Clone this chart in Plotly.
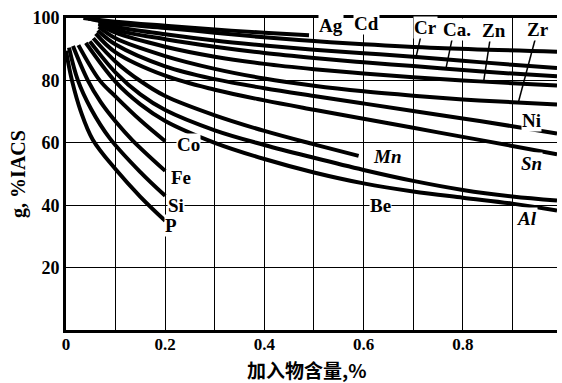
import plotly.graph_objects as go

# ---- data: x = 加入物含量 (%), y = g (%IACS) ----
ag_x = [0.035, 0.1, 0.2, 0.3, 0.4, 0.49]
ag_y = [100.0, 98.8, 97.5, 96.3, 95.3, 94.5]

cd_x = [0.045, 0.1, 0.2, 0.3, 0.4, 0.5, 0.6, 0.75, 0.99]
cd_y = [99.8, 98.2, 96.8, 95.3, 93.8, 92.6, 91.6, 90.4, 89.2]

cr_x = [0.066, 0.1, 0.2, 0.3, 0.4, 0.5, 0.6, 0.7, 0.8, 0.9, 0.99]
cr_y = [99.0, 97.2, 94.8, 92.8, 91.2, 89.8, 88.7, 87.6, 86.3, 85.0, 84.0]

ca_x = [0.066, 0.1, 0.2, 0.3, 0.4, 0.5, 0.6, 0.7, 0.8, 0.9, 0.99]
ca_y = [98.5, 96.2, 93.2, 90.8, 88.8, 87.2, 85.8, 84.6, 83.3, 82.2, 81.3]

zn_x = [0.066, 0.1, 0.2, 0.3, 0.4, 0.5, 0.6, 0.7, 0.8, 0.9, 0.99]
zn_y = [98.0, 95.3, 90.8, 87.6, 85.3, 83.6, 82.2, 81.0, 80.0, 79.1, 78.4]

zr_x = [0.066, 0.1, 0.2, 0.3, 0.4, 0.5, 0.6, 0.7, 0.8, 0.9, 0.99]
zr_y = [97.2, 93.5, 87.8, 83.7, 80.6, 78.3, 76.5, 75.1, 73.9, 73.0, 72.3]

ni_x = [0.064, 0.1, 0.2, 0.3, 0.4, 0.5, 0.6, 0.7, 0.8, 0.9, 0.99]
ni_y = [96.0, 91.5, 84.5, 80.4, 77.5, 75.0, 72.6, 70.2, 67.8, 65.3, 63.0]

sn_x = [0.06, 0.1, 0.2, 0.3, 0.4, 0.5, 0.6, 0.7, 0.8, 0.9, 0.99]
sn_y = [95.0, 89.0, 81.5, 77.0, 73.6, 70.6, 67.7, 64.8, 61.9, 59.0, 56.3]

mn_x = [0.055, 0.1, 0.15, 0.2, 0.3, 0.4, 0.5, 0.59]
mn_y = [93.5, 86.0, 79.8, 75.0, 68.8, 63.8, 59.5, 55.8]

be_x = [0.048, 0.1, 0.15, 0.2, 0.3, 0.4, 0.5, 0.6, 0.7, 0.8, 0.9, 0.99]
be_y = [92.5, 82.5, 75.5, 70.5, 64.0, 59.3, 55.2, 51.3, 47.8, 44.9, 42.8, 41.5]

al_x = [0.04, 0.1, 0.15, 0.2, 0.3, 0.4, 0.5, 0.6, 0.7, 0.8, 0.9, 0.99]
al_y = [92.0, 79.5, 72.3, 67.0, 60.0, 54.8, 50.5, 47.0, 44.4, 42.4, 40.5, 38.3]

co_x = [0.025, 0.068, 0.1, 0.15, 0.2]
co_y = [91.3, 80.0, 74.8, 67.2, 60.5]

fe_x = [0.014, 0.044, 0.07, 0.1, 0.134, 0.2]
fe_y = [91.0, 80.0, 73.0, 66.8, 60.8, 51.0]

si_x = [0.006, 0.024, 0.05, 0.088, 0.15, 0.2]
si_y = [90.5, 80.0, 71.0, 61.5, 50.6, 43.0]

p_x = [0.0, 0.012, 0.03, 0.054, 0.1, 0.15, 0.2]
p_y = [89.5, 80.0, 70.0, 61.0, 51.5, 42.7, 35.0]

x_ticks = [0, 0.2, 0.4, 0.6, 0.8]
x_tick_text = ["0", "0.2", "0.4", "0.6", "0.8"]
x_minor = [0.1, 0.3, 0.5, 0.7, 0.9]
y_ticks = [20, 40, 60, 80, 100]

series = [
    (ag_x, ag_y), (cd_x, cd_y), (cr_x, cr_y), (ca_x, ca_y), (zn_x, zn_y),
    (zr_x, zr_y), (ni_x, ni_y), (sn_x, sn_y), (mn_x, mn_y), (be_x, be_y),
    (al_x, al_y), (co_x, co_y), (fe_x, fe_y), (si_x, si_y), (p_x, p_y),
]

# label text, position (data), italic
labels = [
    ("Ag", 0.535, 97.6, False), ("Cd", 0.605, 98.3, False),
    ("Cr", 0.725, 96.8, False), ("Ca.", 0.788, 96.3, False),
    ("Zn", 0.862, 96.0, False), ("Zr", 0.952, 96.3, False),
    ("Ni", 0.938, 67.0, False), ("Sn", 0.938, 53.5, True),
    ("Al", 0.93, 35.8, True), ("Mn", 0.648, 55.5, True),
    ("Be", 0.635, 40.0, False), ("Co", 0.247, 59.5, False),
    ("Fe", 0.232, 49.0, False), ("Si", 0.222, 40.0, False),
    ("P", 0.212, 33.6, False),
]

# leader lines: (x_label, y_label, x_curve, y_curve)
leaders = [
    (0.716, 94.6, 0.706, 87.6),
    (0.780, 94.4, 0.766, 83.8),
    (0.856, 94.2, 0.842, 79.5),
    (0.948, 94.4, 0.912, 72.9),
]

fig = go.Figure()
for xs, ys in series:
    fig.add_trace(go.Scatter(
        x=xs, y=ys, mode="lines",
        line=dict(color="black", width=4, shape="spline", smoothing=1.0),
        hoverinfo="skip", showlegend=False,
    ))

for x0, y0, x1, y1 in leaders:
    fig.add_shape(type="line", x0=x0, y0=y0, x1=x1, y1=y1,
                  line=dict(color="black", width=1.5), layer="above")

serif = "Liberation Serif"
for txt, lx, ly, it in labels:
    fig.add_annotation(
        x=lx, y=ly, text=txt, showarrow=False,
        font=dict(family=serif, size=19, color="black", weight="bold",
                  style="italic" if it else "normal"),
        bgcolor="white", borderpad=0,
    )

fig.add_annotation(
    xref="paper", yref="paper", x=-0.098, y=0.5, text="g, %IACS",
    textangle=-90, showarrow=False, xanchor="center", yanchor="middle",
    font=dict(family=serif, size=20, color="black", weight="bold"),
)
fig.add_annotation(
    xref="paper", yref="paper", x=0.49, y=-0.126, text="加入物含量,%",
    showarrow=False, xanchor="center", yanchor="middle",
    font=dict(family="Noto Sans CJK SC", size=19, color="black", weight="bold"),
)

fig.update_xaxes(
    range=[0, 0.99], tickvals=x_ticks, ticktext=x_tick_text,
    showgrid=True, gridcolor="black", gridwidth=1.3,
    minor=dict(tickvals=x_minor, showgrid=True,
               gridcolor="black", gridwidth=1.3),
    showline=True, linecolor="black", linewidth=3, mirror=True,
    zeroline=False, ticks="", automargin=False, ticklabelstandoff=-3,
    tickfont=dict(family=serif, size=17, color="black", weight="bold"),
)
fig.update_yaxes(
    range=[0, 100], tickvals=y_ticks,
    showgrid=True, gridcolor="black", gridwidth=1.3,
    showline=True, linecolor="black", linewidth=3,
    zeroline=False, ticks="", automargin=False,
    tickfont=dict(family=serif, size=18, color="black", weight="bold"),
)

fig.update_layout(
    width=562, height=383,
    margin=dict(l=66, r=5, t=18, b=53),
    paper_bgcolor="white", plot_bgcolor="white",
    showlegend=False,
)

fig.write_html("out.html", config={"displayModeBar": False},
               post_script="document.body.style.margin='0px';")
